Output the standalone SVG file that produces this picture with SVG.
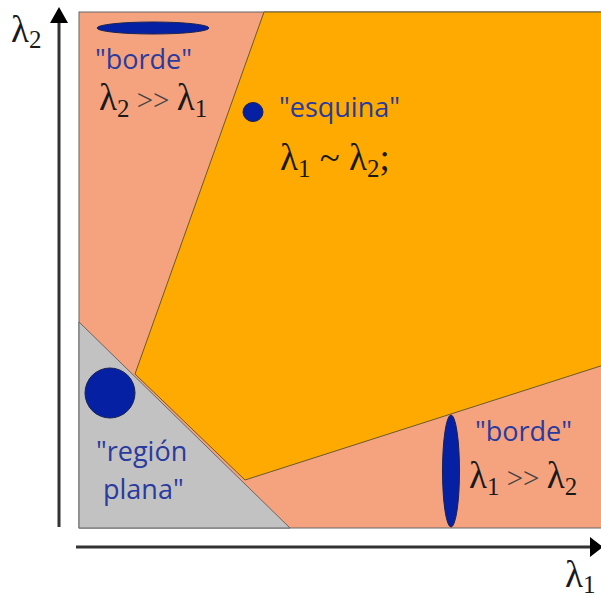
<svg xmlns="http://www.w3.org/2000/svg" width="601" height="598" viewBox="0 0 601 598">
<style>
.lbl{font-family:"Open Sans","Liberation Sans",sans-serif;font-size:27px;fill:#2a3a9e}
.math{font-family:"Liberation Serif",serif;font-size:37px;fill:#1a1a1a}
.sub{font-size:25px}
.blob{fill:#0620a3;stroke:#1a2250;stroke-width:1}
.ax{stroke:#333;stroke-width:3;fill:none}
</style>
<rect width="601" height="598" fill="#fff"/>
<g id="regions">
<rect id="edge-bg" x="79" y="12" width="530" height="516" fill="#f5a37f" stroke="#666" stroke-width="1"/>
<polygon id="corner-region" points="264,12 610,12 610,363 245,480 135,374" fill="#ffaa00" stroke="#6b5a2a" stroke-width="1"/>
<polygon id="flat-region" points="79,322 79,528 290,528" fill="#c2c2c2" stroke="#666" stroke-width="1"/>
</g>
<g id="connectors">
<line class="ax" x1="59" y1="527" x2="59" y2="22"/>
<polygon points="59,7 50,23 68,23" fill="#000"/>
<line class="ax" x1="76" y1="547" x2="590" y2="547"/>
<polygon points="603,547 590,537 590,557" fill="#000"/>
</g>
<g id="axis-y-label"><text class="math" x="11" y="42">λ<tspan class="sub" dy="6">2</tspan></text></g>
<g id="axis-x-label"><text class="math" x="565" y="587" font-size="35">λ<tspan class="sub" dy="6" font-size="22">1</tspan></text></g>
<g id="edge-top">
<ellipse class="blob" cx="153" cy="28" rx="56" ry="6"/>
<text class="lbl" x="95" y="69">"borde"</text>
<text class="math" x="99" y="110">λ<tspan class="sub" dy="7">2</tspan><tspan dy="-7" font-size="29" fill="#444"> &gt;&gt; </tspan>λ<tspan class="sub" dy="7">1</tspan></text>
</g>
<g id="corner">
<ellipse class="blob" cx="253" cy="112" rx="10" ry="9.5"/>
<text class="lbl" x="279" y="117">"esquina"</text>
<text class="math" x="280" y="170">λ<tspan class="sub" dy="7">1</tspan><tspan dy="-7"> ~ </tspan>λ<tspan class="sub" dy="7">2</tspan><tspan dy="-7">;</tspan></text>
</g>
<g id="flat">
<circle class="blob" cx="110" cy="393" r="25"/>
<text class="lbl" x="96" y="461">"región</text>
<text class="lbl" x="103" y="499">plana"</text>
</g>
<g id="edge-right">
<ellipse class="blob" cx="451" cy="471" rx="8.5" ry="56"/>
<text class="lbl" x="475" y="441">"borde"</text>
<text class="math" x="469" y="488">λ<tspan class="sub" dy="7">1</tspan><tspan dy="-7" font-size="29" fill="#444"> &gt;&gt; </tspan>λ<tspan class="sub" dy="7">2</tspan></text>
</g>
</svg>
